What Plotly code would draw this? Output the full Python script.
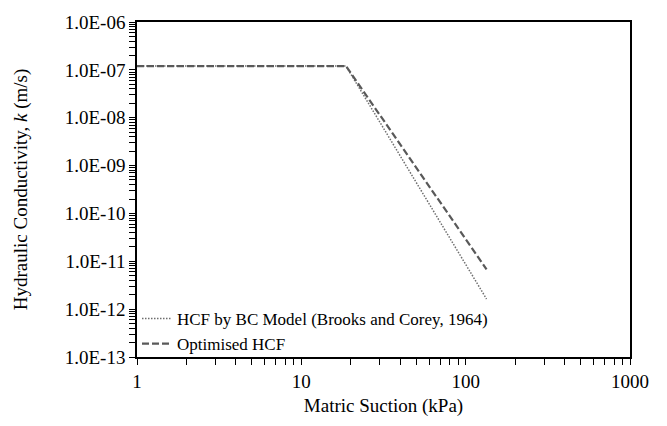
import plotly.graph_objects as go

# Data
suction_kpa = [1, 18.7, 134]
k_bc_model = [1.2e-7, 1.2e-7, 1.63e-12]
k_optimised = [1.2e-7, 1.2e-7, 6.8e-12]

y_major = [1e-6, 1e-7, 1e-8, 1e-9, 1e-10, 1e-11, 1e-12, 1e-13]
y_major_text = ["1.0E-06", "1.0E-07", "1.0E-08", "1.0E-09",
                "1.0E-10", "1.0E-11", "1.0E-12", "1.0E-13"]
x_major = [1, 10, 100, 1000]
x_major_text = ["1", "10", "100", "1000"]

# minor tick positions (2..9 within each decade), shown unlabeled
x_minor = [m * 10 ** d for d in range(0, 3) for m in range(2, 10)]
y_minor = [m * 10.0 ** d for d in range(-13, -6) for m in range(2, 10)]

x_tickvals = x_major + x_minor
x_ticktext = x_major_text + [""] * len(x_minor)
y_tickvals = y_major + y_minor
y_ticktext = y_major_text + [""] * len(y_minor)

FONT = "Liberation Serif, Tinos, Times New Roman, serif"

fig = go.Figure()
fig.add_trace(go.Scatter(
    x=suction_kpa, y=k_bc_model, mode="lines",
    name="HCF by BC Model (Brooks and Corey, 1964)",
    line=dict(color="#6e6e6e", width=1.5, dash="1.5px,1.5px"),
))
fig.add_trace(go.Scatter(
    x=suction_kpa, y=k_optimised, mode="lines",
    name="Optimised HCF",
    line=dict(color="#595959", width=2.2, dash="7px,3px"),
))

fig.update_layout(
    width=667, height=426,
    margin=dict(l=137, r=37, t=13, b=69),
    paper_bgcolor="white", plot_bgcolor="white",
    font=dict(family=FONT, size=17, color="black"),
    showlegend=True,
    legend=dict(
        x=0.0, y=-0.015, xanchor="left", yanchor="bottom",
        bgcolor="rgba(0,0,0,0)", font=dict(family=FONT, size=17, color="black"),
        tracegroupgap=0, itemwidth=30,
    ),
    xaxis=dict(
        type="log", range=[0, 3],
        tickmode="array", tickvals=x_tickvals, ticktext=x_ticktext,
        ticks="outside", ticklen=6, tickwidth=1, tickcolor="black",
        showline=True, linecolor="black", linewidth=1.5, mirror=True,
        showgrid=False, zeroline=False,
        title=dict(text="Matric Suction (kPa)", font=dict(family=FONT, size=19), standoff=8),
        tickfont=dict(family=FONT, size=19),
    ),
    yaxis=dict(
        type="log", range=[-13, -6],
        tickmode="array", tickvals=y_tickvals, ticktext=y_ticktext,
        ticks="outside", ticklen=6, tickwidth=1, tickcolor="black",
        showline=True, linecolor="black", linewidth=1.5, mirror=True,
        showgrid=False, zeroline=False,
        title=dict(text="Hydraulic Conductivity, <i>k</i> (m/s)", font=dict(family=FONT, size=19), standoff=32),
        tickfont=dict(family=FONT, size=19),
    ),
)

fig.write_html("out.html")
